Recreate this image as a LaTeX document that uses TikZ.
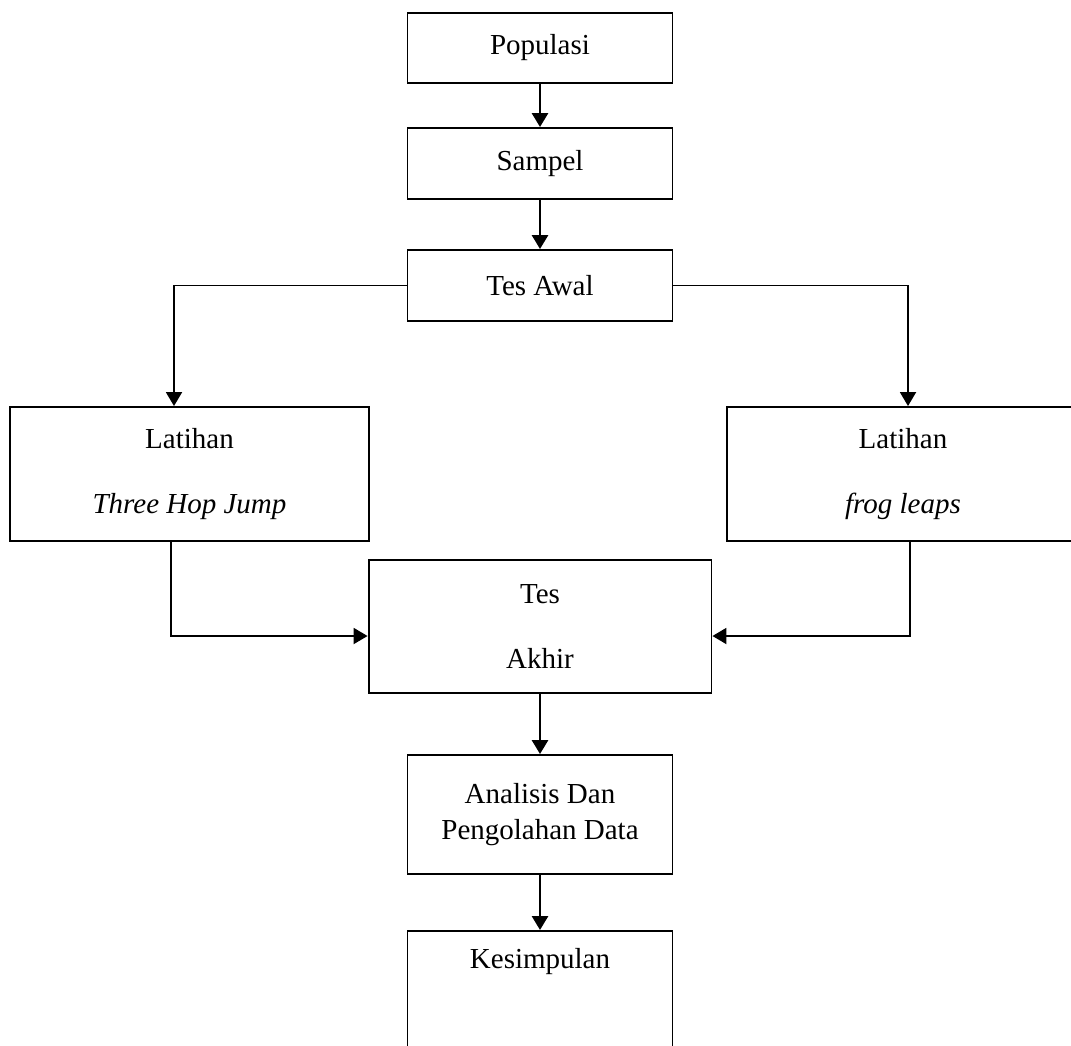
\documentclass[tikz,border=0pt]{standalone}
\usepackage{fontspec}
\setmainfont{Liberation Serif}
\usetikzlibrary{arrows.meta}

\begin{document}
\begin{tikzpicture}[x=0.02cm, y=-0.02cm,
  box/.style={draw=black, line width=1.1pt, align=center, inner sep=0pt, font=\fontsize{16.5}{20}\selectfont},
  arr/.style={-{Triangle[width=0.32cm, length=0.28cm]}, line width=1.1pt, draw=black},
  down/.style={arr, line width=1.6pt}]
\useasboundingbox (0,0) rectangle (1071,1045);
\node[box, minimum width=5.3cm, minimum height=1.4cm] (pop) at (540,48) {Populasi};
\node[box, minimum width=5.3cm, minimum height=1.42cm] (sam) at (540,163.5) {Sampel};
\node[box, minimum width=5.3cm, minimum height=1.42cm] (awal) at (540,285.5) {Tes Awal};
\node[box, minimum width=7.18cm, minimum height=2.68cm] (lat1) at (189.5,474) {Latihan\\[0.58cm]\textit{Three Hop Jump}};
\node[box, minimum width=7.04cm, minimum height=2.68cm] (lat2) at (903,474) {Latihan\\[0.58cm]\textit{frog leaps}};
\node[box, minimum width=6.86cm, minimum height=2.66cm] (akh) at (540,626.5) {Tes\\[0.6cm]Akhir};
\node[box, minimum width=5.3cm, minimum height=2.38cm] (ana) at (540,814.5) {Analisis Dan\\Pengolahan Data};
\node[box, minimum width=5.3cm, anchor=north, inner ysep=0.34cm, text depth=3cm] (kes) at (540,930) {Kesimpulan};
\path[down] (pop) edge (sam);
\path[down] (sam) edge (awal);
\draw[arr] (awal.west) -| ([xshift=-0.31cm]lat1.north);
\draw[arr] (awal.east) -| ([xshift=0.1cm]lat2.north);
\draw[arr] ([xshift=-0.37cm]lat1.south) |- ([yshift=-0.19cm]akh.west);
\draw[arr] ([xshift=0.14cm]lat2.south) |- ([yshift=-0.19cm]akh.east);
\path[down] (akh) edge (ana);
\path[down] (ana) edge (kes);
\end{tikzpicture}
\end{document}
